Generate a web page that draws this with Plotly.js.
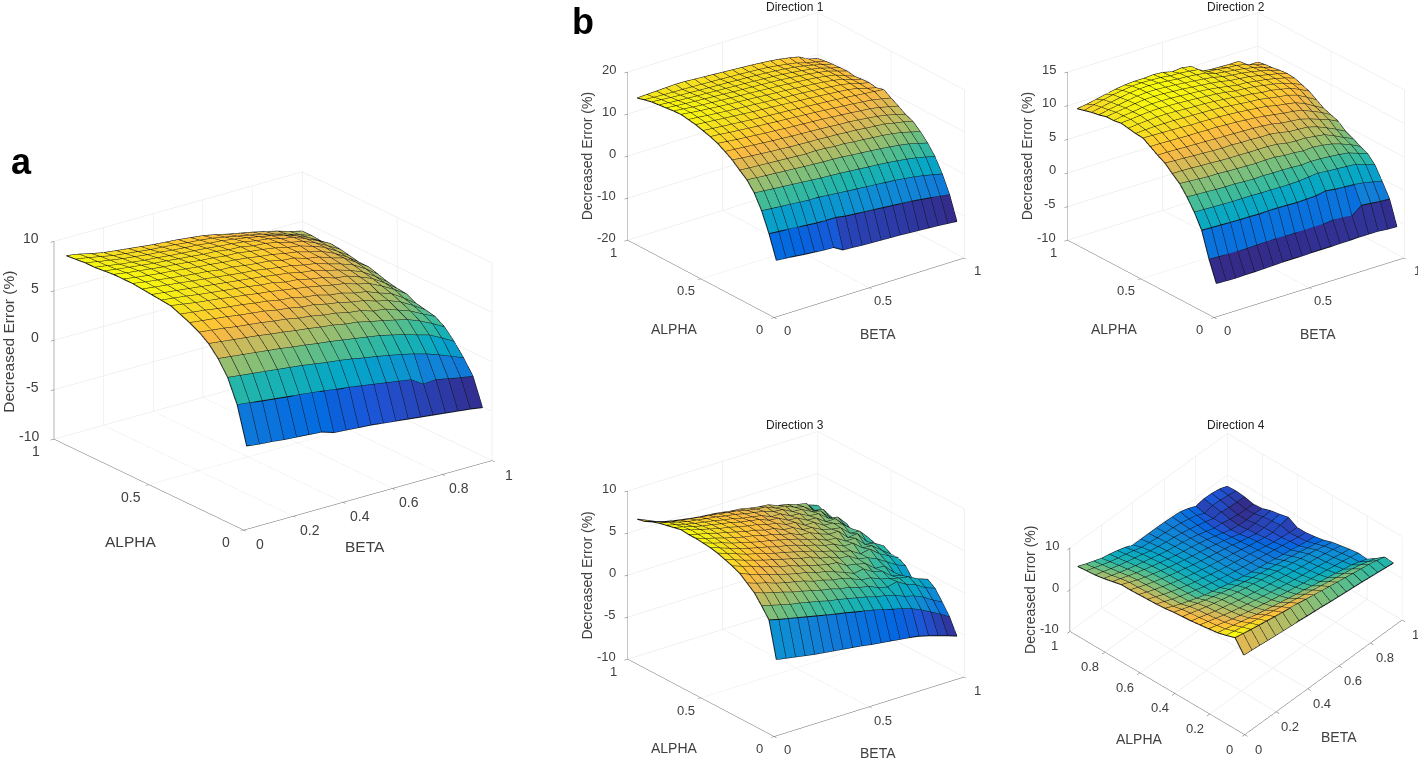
<!DOCTYPE html>
<html><head><meta charset="utf-8">
<script src="https://cdn.plot.ly/plotly-3.0.1.min.js"></script>
<style>html,body{margin:0;padding:0;background:#fff}#g{width:1418px;height:758px}</style>
</head><body><div id="g"></div>
<script>
const alpha=[.05,.1,.15,.2,.25,.3,.35,.4,.45,.5,.55,.6,.65,.7,.75,.8,.85,.9,.95,1];
const beta=[.05,.1,.15,.2,.25,.3,.35,.4,.45,.5,.55,.6,.65,.7,.75,.8,.85,.9,.95,1];
const zA=[
[-2.3,-2.45,-2.55,-2.7,-2.8,-2.9,-3,-3.4,-3.5,-3.6,-3.7,-3.85,-4,-4.15,-4.3,-4.45,-4.6,-4.75,-4.9,-5.1],
[1.4,1.25,1.1,.95,.8,.65,.5,.35,.15,0,-.2,-.4,-.6,-.8,-1,-1.8,-1.7,-1.95,-2.2,-2.4],
[3.7,3.55,3.4,3.25,3.1,2.95,2.8,2.6,2.4,2.25,2.05,1.8,1.6,1.35,1.1,.8,.45,0,-.5,-1],
[5.15,5,4.85,4.7,4.55,4.4,4.2,4.05,3.85,3.7,3.5,3.3,3.1,2.9,2.6,2.3,1.9,1.55,.9,.2],
[6.2,6.05,5.9,5.75,5.6,5.4,5.25,5.05,4.9,4.7,4.55,4.3,4.15,3.85,3.6,3.3,3,2.5,1.9,1.2],
[6.9,6.75,6.6,6.4,6.25,6.1,5.9,5.75,5.5,5.35,5.1,4.95,4.65,4.5,4.1,3.95,3.5,3.05,2.4,1.8],
[7.4,7.25,7.1,6.95,6.75,6.6,6.45,6.2,6.05,5.8,5.7,5.4,5.2,4.9,4.7,4.3,4,3.5,2.8,2],
[7.8,7.65,7.5,7.3,7.15,7,6.8,6.65,6.4,6.3,6,5.85,5.5,5.35,5,4.8,4.3,3.9,3.1,2.2],
[8.2,8,7.8,7.65,7.5,7.3,7.15,6.95,6.8,6.6,6.4,6.2,5.95,5.7,5.5,5.1,4.8,4.2,3.5,2.7],
[8.3,8.15,8,7.8,7.65,7.5,7.35,7.2,7,6.9,6.6,6.5,6.2,6,5.6,5.45,5,4.5,3.7,2.8],
[8.4,8.25,8.1,7.95,7.8,7.65,7.5,7.35,7.2,7.05,6.85,6.7,6.4,6.25,5.9,5.6,5.2,4.7,3.9,3],
[8.5,8.35,8.2,8.05,7.9,7.75,7.6,7.45,7.3,7.2,7,6.8,6.65,6.35,6.15,5.75,5.4,4.95,4.2,3.3],
[8.6,8.4,8.25,8.1,7.95,7.8,7.7,7.5,7.45,7.25,7.1,7,6.7,6.6,6.2,6,5.55,5.2,4.4,3.6],
[8.6,8.4,8.25,8.1,8,7.85,7.7,7.6,7.45,7.35,7.2,7,6.85,6.6,6.4,6.05,5.75,5.2,4.5,3.6],
[8.6,8.4,8.25,8.1,7.95,7.85,7.7,7.55,7.45,7.3,7.25,7.05,6.9,6.7,6.4,6.2,5.8,5.35,4.6,3.8],
[8.5,8.3,8.15,8,7.85,7.75,7.6,7.5,7.35,7.3,7.1,7.05,6.8,6.7,6.45,6.1,5.85,5.35,4.7,4],
[8.4,8.2,8,7.85,7.7,7.6,7.45,7.35,7.25,7.15,7,6.9,6.75,6.5,6.35,6,5.8,5.3,4.75,4.1],
[8.4,8.15,7.95,7.75,7.6,7.45,7.35,7.2,7.1,7,6.85,6.75,6.55,6.35,6.1,5.85,5.55,5.15,4.6,3.9],
[8.3,8.1,7.85,7.6,7.45,7.3,7.15,7.05,6.95,6.8,6.7,6.55,6.3,6.05,5.8,5.55,5.2,4.85,4.45,4],
[8.2,8,7.7,7.45,7.3,7.15,7,6.85,6.75,6.65,6.5,6.35,6.1,5.8,5.55,5.3,5,4.7,4.3,4]];
const zD1=[
[-8,-8.2,-8.45,-8.7,-8.9,-9.1,-9.2,-10.5,-10.6,-10.8,-10.9,-11,-11.1,-11.2,-11.35,-11.5,-11.65,-11.8,-12,-12.2],
[-2.6,-2.8,-3,-3.2,-3.4,-3.6,-3.7,-3.7,-4.1,-4.3,-4.5,-4.7,-4.9,-5.1,-5.3,-5.5,-5.8,-6.1,-6.5,-6.8],
[1.9,1.7,1.5,1.3,1.1,.9,.9,.6,.4,.2,0,-.2,-.4,-.6,-.8,-1.1,-1.4,-1.8,-2.3,-2.8],
[5.2,5,4.8,4.6,4.4,4.2,4,3.8,3.65,3.5,3.3,3.1,2.9,2.7,2.5,2.2,1.9,1.5,1,.4],
[7.4,7.2,7,6.85,6.65,6.5,6.3,6.15,6,5.9,5.75,5.5,5.3,5.1,4.85,4.6,4.3,3.9,3.3,2.7],
[8.8,8.6,8.45,8.3,8.15,8,7.85,7.7,7.75,7.6,7.35,7.3,7,6.85,6.6,6.4,6.1,5.7,5.1,4.5],
[10.3,10.05,9.85,9.65,9.45,9.3,9.1,9,8.85,8.8,8.6,8.55,8.3,8.2,7.9,7.7,7.5,7,6.6,6],
[11.4,11.2,11,10.8,10.6,10.4,10.25,10.05,9.95,9.8,9.65,9.5,9.3,9.2,8.95,8.7,8.4,8,7.4,6.7],
[12.4,12.15,11.9,11.7,11.5,11.3,11.15,10.95,10.8,10.65,10.5,10.35,10.15,9.95,9.75,9.5,9.3,8.9,8.35,7.8],
[13.1,12.9,12.65,12.45,12.25,12.05,11.9,11.7,11.55,11.4,11.2,11.05,10.85,10.65,10.45,10.25,10,9.75,9.3,8.8],
[13.6,13.4,13.2,13,12.8,12.6,12.4,12.25,12.1,11.95,11.75,11.6,11.4,11.25,11.05,10.85,10.6,10.35,10.15,9.9],
[14.1,13.9,13.7,13.5,13.3,13.1,12.9,12.75,12.6,12.4,12.25,12.05,11.9,11.7,11.5,11.3,11.05,10.7,10,9.4],
[14.4,14.2,13.95,13.75,13.55,13.35,13.2,13.05,12.85,12.7,12.5,12.35,12.2,12,11.8,11.55,11.3,10.9,10.2,9.7],
[14.7,14.4,14.15,13.95,13.75,13.55,13.4,13.25,13.1,12.9,12.75,12.6,12.4,12.2,12,11.75,11.45,11,10.2,9.6],
[14.6,14.35,14.1,13.9,13.75,13.6,13.45,13.3,13.15,13,12.85,12.7,12.5,12.3,12.1,11.85,11.5,11.1,10.2,9.4],
[14.4,14.2,14,13.85,13.7,13.55,13.4,13.25,13.1,13,12.85,12.7,12.55,12.35,12.1,11.85,11.5,11.1,10.4,9.7],
[14.2,14,13.8,13.65,13.5,13.4,13.25,13.15,13,12.9,12.75,12.6,12.45,12.25,12,11.7,11.35,10.9,10.2,9.6],
[14,13.8,13.6,13.45,13.35,13.2,13.1,13,12.9,12.75,12.65,12.5,12.35,12.15,11.9,11.6,11.2,10.7,10.1,9.5],
[13.6,13.45,13.35,13.25,13.2,13.1,13,12.9,12.8,12.65,12.55,12.4,12.25,12.05,11.75,11.4,11,10.3,9.8,9.3],
[13.1,13.2,13.3,13.4,13.5,13.45,13.3,13.15,13,12.85,12.7,12.55,12.4,12.2,12,11.7,11.3,10.8,9.6,9]];
const zD2=[
[-5.95,-6,-6.05,-6,-6,-5.95,-5.9,-5.85,-5.85,-5.85,-5.8,-5.8,-5.8,-5.75,-5.75,-5.7,-5.7,-5.7,-5.85,-5.9],
[-2.9,-2.95,-3,-3.05,-3.05,-3,-2.95,-2.95,-3,-3,-3,-3,-3,-2.85,-2.9,-3.1,-2,-2.15,-2.3,-2.4],
[.8,.75,.7,.65,.6,.6,.55,.6,.6,.55,.5,.55,.6,.9,.7,.6,.5,.3,0,-.4],
[2.9,2.85,2.8,2.75,2.7,2.7,2.7,2.65,2.65,2.6,2.6,2.65,2.8,2.95,2.8,2.7,2.6,2.5,2,1.5],
[4.6,4.5,4.45,4.35,4.3,4.3,4.2,4.15,4.2,4.15,4.15,4.1,4,4.1,4.05,3.95,3.8,3.6,3.1,2.6],
[6,5.9,5.8,5.7,5.7,5.6,5.55,5.5,5.45,5.5,5.5,5.3,5.25,5.1,5.2,5.05,4.8,4.35,3.8,3.1],
[6.9,6.9,6.85,6.75,6.7,6.6,6.55,6.55,6.5,6.5,6.5,6.4,6.1,6,6,5.8,5.6,5,4.3,3.7],
[7.9,7.8,7.75,7.65,7.6,7.5,7.45,7.5,7.4,7.4,7.3,7.3,7.1,6.8,6.7,6.6,6.2,5.6,4.95,4.2],
[8.5,8.5,8.45,8.4,8.35,8.3,8.25,8.2,8.15,8.1,8.05,7.95,7.8,7.5,7.35,7.2,6.8,6.3,5.8,5.1],
[9.2,9.2,9.15,9.1,9.05,9.05,9,9,8.9,8.85,8.7,8.6,8.4,8.2,7.95,7.8,7.5,6.9,6.3,5.5],
[9.9,9.85,9.8,9.75,9.7,9.6,9.6,9.55,9.5,9.4,9.3,9.15,9,8.85,8.5,8.3,8.05,7.5,6.7,5.9],
[10,10.1,10.15,10.15,10.15,10.1,10.05,10,9.95,9.85,9.7,9.55,9.4,9.3,9.05,8.8,8.6,8.15,7.4,6.6],
[10.2,10.35,10.45,10.55,10.55,10.5,10.4,10.35,10.3,10.2,10.05,9.9,9.7,9.55,9.3,9.2,8.9,8.6,8,7.3],
[10.4,10.5,10.65,10.75,10.8,10.75,10.7,10.6,10.5,10.4,10.3,10.1,9.85,9.75,9.6,9.35,9.1,8.8,8.3,7.7],
[10.2,10.45,10.6,10.8,10.9,10.9,10.85,10.75,10.65,10.55,10.4,10.2,9.95,9.7,9.65,9.4,9.2,8.9,8.55,8.1],
[10.2,10.4,10.6,10.8,10.95,11,10.95,10.85,10.75,10.6,10.45,10.3,10.1,9.8,9.65,9.5,9.2,8.9,8.6,8.2],
[9.9,10.2,10.45,10.7,10.9,11,11,10.9,10.8,10.65,10.5,10.35,10.15,9.8,9.6,9.45,9.2,8.9,8.55,8.1],
[9.7,10,10.3,10.55,10.8,10.95,11,10.95,10.8,10.65,10.55,10.4,10.2,9.7,9.5,9.3,9.1,8.8,8.4,7.9],
[9.4,9.8,10.1,10.4,10.6,10.8,10.85,10.8,10.75,10.55,10.5,10.35,10.15,9.4,9.3,9.1,9,8.7,8.2,7.8],
[9.1,9.3,9.6,9.9,10.2,10.4,10.5,10.5,10.6,10.5,10.15,10.3,10.05,8.9,8.7,8.65,8.6,8.6,7.6,7.6]];
const zD3=[
[-1.65,-1.85,-2.05,-2.25,-2.45,-2.6,-2.75,-2.9,-3.05,-3.2,-3.4,-3.55,-3.7,-3.85,-4,-4.2,-4.5,-4.85,-5.2,-5.6],
[2.6,2.3,2.05,1.8,1.55,1.3,1.05,.8,.6,.35,.1,-.15,-.45,-.75,-1.05,-1.4,-1.9,-2.5,-3.1,-3.8],
[3.8,3.5,3.2,2.9,2.7,2.45,2.2,1.9,1.7,1.45,1.2,.95,.6,.4,.1,-.4,-.7,-1.2,-1.9,-2.5],
[4.9,4.5,4.2,3.9,3.55,3.3,3,2.7,2.5,2.15,2,1.6,1.4,.9,.6,.9,.2,-.2,-.9,-1.3],
[5.6,5.2,4.9,4.5,4.2,3.95,3.7,3.3,3.1,2.75,2.6,2.2,1.7,1.6,1.1,.8,.5,.3,-.3,-.7],
[6.3,5.8,5.4,5.1,4.7,4.4,4.1,3.9,3.5,3.3,2.9,2.5,2,2.2,1.5,1.2,.3,0,-.8,-1.1],
[6.7,6.3,5.95,5.5,5.2,4.8,4.6,4.2,3.9,3.6,3.3,3.2,2.5,2.3,2,1.1,1,-.1,-1,-1.7],
[7,6.6,6.2,5.85,5.5,5.2,4.9,4.6,4.3,4.1,3.6,3.4,2.9,2.8,2.1,1.9,1.4,.7,0,-.5],
[7.3,6.9,6.5,6.1,5.8,5.5,5.15,4.9,4.6,4.3,4,3.6,3.3,2.9,2.6,1.9,2.1,1.2,.6,0],
[7.5,7.1,6.7,6.35,6,5.7,5.45,5.1,4.9,4.6,4.2,3.9,3.5,3.3,2.7,2.7,1.8,1.7,.8,0],
[7.6,7.2,6.9,6.5,6.2,5.9,5.6,5.4,5.1,4.8,4.5,4.1,3.8,3.3,3.2,2.5,2.5,1.4,1.2,.5],
[7.7,7.3,7,6.65,6.35,6.05,5.85,5.5,5.3,4.9,4.7,4.2,4.1,3.6,3.2,3.2,2.1,2.2,.9,.2],
[7.7,7.35,7.1,6.75,6.5,6.2,5.9,5.7,5.35,5.2,4.7,4.6,4,3.9,3.3,3,2.8,1.8,1.7,.5],
[7.8,7.4,7.1,6.8,6.5,6.3,6,5.75,5.55,5.2,5,4.5,4.4,3.7,3.7,3,2.9,2.4,1.5,.7],
[7.6,7.3,7,6.7,6.5,6.25,6.05,5.75,5.55,5.35,4.9,4.8,4.2,4.1,3.5,3.4,2.6,2.6,1.5,0],
[7.4,7.1,6.8,6.55,6.35,6.15,5.9,5.7,5.4,5.2,5,4.5,4.5,3.9,3.8,3.2,3.1,2.2,2,.8],
[7.2,6.9,6.6,6.3,6.15,5.95,5.8,5.55,5.4,5.1,4.9,4.7,4.3,4.2,3.6,3.5,2.9,2.6,1.4,.4],
[6.9,6.5,6.2,6,5.8,5.65,5.5,5.35,5.15,5,4.7,4.5,4.4,3.9,3.8,3.3,3,2.2,2,.6],
[6.5,6.1,5.75,5.5,5.3,5.1,4.95,4.85,4.7,4.5,4.4,4.15,3.95,3.85,3.4,3.2,2.8,2.6,1.3,.8],
[6.3,5.8,5.3,4.8,4.2,3.9,3.6,3.5,3.4,3.3,3.3,3.2,3.1,2.85,2.7,2.3,1.9,1.7,1.6,1.2]];
const zD4=[
[6.5,6.3,6.1,5.85,5.65,5.45,5.25,5.05,4.8,4.6,4.4,4.15,3.95,3.75,3.55,3.35,3.1,2.9,2.65,2.4],
[9.4,9,8.6,8.25,7.9,7.55,7.2,6.9,6.6,6.2,5.85,5.5,5.15,4.8,4.5,4.15,3.85,3.55,3.1,2.6],
[8.7,8.3,7.9,7.5,7.1,6.7,6.3,5.9,5.55,5.15,4.8,4.4,4.05,3.65,3.3,2.95,2.6,2.2,1.6,1],
[8.1,7.6,7.1,6.6,6.1,5.6,5.2,4.75,4.35,3.95,3.55,3.2,2.8,2.4,2.05,1.7,1.3,.95,.3,-.4],
[7.8,7.2,6.6,6,5.5,5,4.55,4.15,3.7,3.3,2.95,2.6,2.2,1.9,1.55,1.25,.9,.6,.2,-.2],
[7.5,6.9,6.3,5.7,5.15,4.65,4.2,3.75,3.35,2.95,2.55,2.2,1.85,1.5,1.2,.9,.55,.25,-.15,-.5],
[7.2,6.6,6,5.4,4.9,4.4,3.9,3.45,3.05,2.65,2.3,1.95,1.6,1.25,.9,.6,.3,-.05,-.45,-.9],
[7,6.4,5.8,5.2,4.65,4.15,3.7,3.25,2.85,2.45,2.05,1.7,1.35,1,.65,.3,0,-.4,-.85,-1.3],
[6.8,6.1,5.4,4.8,4.2,3.65,3.15,2.65,2.2,1.75,1.35,1,.65,.3,-.05,-.4,-.75,-1.15,-1.55,-2],
[6.5,5.6,4.8,4.1,3.4,2.8,2.3,1.8,1.3,.9,.5,.1,-.2,-.5,-.9,-1.2,-1.5,-1.9,-2.2,-2.4],
[6.3,5.5,4.7,4,3.35,2.75,2.2,1.75,1.25,.8,.4,0,-.35,-.65,-1,-1.35,-1.7,-2.1,-2.45,-2.7],
[6.2,5.4,4.6,3.9,3.25,2.65,2.1,1.65,1.15,.7,.25,-.1,-.5,-.85,-1.3,-1.7,-2.1,-2.35,-2.6,-2.7],
[6.1,5.3,4.55,3.85,3.2,2.6,2.05,1.55,1.05,.6,.2,-.2,-.6,-1,-1.45,-1.85,-2.2,-2.4,-2,-1.5],
[6,5.2,4.45,3.75,3.15,2.55,2,1.5,1,.55,.15,-.3,-.7,-1.2,-1.7,-2.1,-2.6,-2.5,-2.3,-2],
[6,5.15,4.35,3.65,3.05,2.45,1.9,1.4,.9,.45,.05,-.35,-.85,-1.35,-1.9,-2.5,-2.8,-2.7,-2.5,-2.4],
[5.5,4.8,4.1,3.45,2.85,2.3,1.75,1.25,.75,.35,0,-.45,-.95,-1.5,-2.1,-2.7,-3,-3.1,-3,-3.1],
[5,4.35,3.7,3.1,2.55,2.05,1.55,1.05,.6,.25,-.1,-.5,-1,-1.6,-2.2,-2.4,-2.8,-3.1,-3.2,-3.3],
[4.6,4,3.35,2.75,2.25,1.8,1.3,.75,.4,.1,-.15,-.5,-.9,-1.4,-1.9,-2.5,-2.3,-2.6,-2.7,-2.8],
[4.4,3.7,3.05,2.4,1.9,1.45,.95,.35,.1,-.1,-.25,-.45,-.7,-1.1,-1.6,-2.5,-2,-2.1,-2.3,-2.6],
[4.2,3.4,2.7,2,1.6,1.1,.5,-.3,-.3,-.3,-.3,-.35,-.45,-.6,-1.2,-2,-1.6,-1.7,-2,-2.7]];

const ticksHalf=[0,.5,1], ticksFifth=[0,.2,.4,.6,.8,1];
const parula=[[0,'#352A87'],[.095,'#2053D4'],[.143,'#0268E1'],[.222,'#127DD8'],[.3,'#0C93D2'],[.38,'#06A7C6'],[.46,'#1DB3AF'],[.52,'#42BB98'],[.587,'#71BF80'],[.65,'#9BBE6F'],[.714,'#C0BC60'],[.778,'#E1B952'],[.825,'#F8BA44'],[.857,'#FFC337'],[.905,'#FAD32A'],[.952,'#F5E41D'],[1,'#F9FB0E']];

const W=1418,H=758;
const fsB={ya:[-14,12],xa:[14,13],za:[-9,-3],yT:[-26,50],xT:[9,46],zT:[-40,0]};
const panels=[
 {z:zA, zr:[-10,10], zt:[-10,-5,0,5,10], xt:ticksFifth, yt:ticksHalf, cx:272.5, cy:351, w:540, h:500, az:37.4, el:21.5, ar:.68, s:1.25,
  off:{ya:[-17,12],xa:[17,14],za:[-12,-3],yT:[-18,57],xT:[-2,51],zT:[-45,1]},fs:14,ts:15.5},
 {z:zD1,zr:[-20,20], zt:[-20,-10,0,10,20], xt:ticksHalf, yt:ticksHalf, cx:795.5, cy:165, w:360, h:320, az:37.6, el:24, ar:.767, s:1.5,off:fsB,fs:13,ts:14},
 {z:zD2,zr:[-10,15], zt:[-10,-5,0,5,10,15], xt:ticksHalf, yt:ticksHalf, cx:1235.5,cy:165, w:360, h:320, az:37.6, el:24, ar:.767, s:1.5,off:fsB,fs:13,ts:14},
 {z:zD3,zr:[-10,10], zt:[-10,-5,0,5,10], xt:ticksHalf, yt:ticksHalf, cx:795.5, cy:584.3, w:360, h:320, az:37.6, el:24, ar:.767, s:1.5,off:fsB,fs:13,ts:14},
 {z:zD4,zr:[-10,10], zt:[-10,0,10], xt:ticksFifth, yt:ticksFifth, cx:1235.9, cy:584.4, w:360, h:320, az:48, el:41, ar:.47, s:1.47,
  off:{ya:[-15,14],xa:[14,14],za:[-9,-3],yT:[-18,56],xT:[16,59],zT:[-40,0]},fs:13,ts:14}
];
const R=3;
const font='Arial, "Liberation Sans", sans-serif';
function axis(range,ticks){return {
 title:{text:''},range:range,autorange:false,tickmode:'array',tickvals:ticks,showticklabels:false,
 showgrid:true,gridcolor:'#e4e4e4',gridwidth:1,
 showline:true,linecolor:'#666',linewidth:1,ticks:'outside',ticklen:4,tickcolor:'#666',zeroline:false,
 showbackground:true,backgroundcolor:'#fff',showspikes:false,mirror:false};}
function note(text,px,py,size){return {text:text,x:px/W,y:1-py/H,xref:'paper',yref:'paper',xanchor:'center',yanchor:'middle',showarrow:false,font:{family:font,size:size,color:size>20?'#000':'#222'}};}
function lab(text,x,y,z,off,size,xanchor,angle){return {text:text,x:x,y:y,z:z,showarrow:false,xshift:off[0],yshift:-off[1],xanchor:xanchor||'center',yanchor:'middle',textangle:angle||0,font:{family:font,size:size,color:'#404040'}};}
const traces=[],layout={width:W,height:H,margin:{l:0,r:0,t:0,b:0},paper_bgcolor:'#fff',showlegend:false,
 annotations:[note('<b>a</b>',21,161,36),note('<b>b</b>',583,22,36),note('Direction 1',795,7,12),note('Direction 2',1236,7,12),note('Direction 3',795,425,12),note('Direction 4',1236,425,12)]};
panels.forEach((p,n)=>{
 const id=n?'scene'+(n+1):'scene';
 const X=[],Y=[],Z=[],I=[],J=[],K=[],C=[];
 const ny=alpha.length,nx=beta.length;
 for(let a=0;a<ny;a++)for(let b=0;b<nx;b++){X.push(beta[b]);Y.push(alpha[a]);Z.push(p.z[a][b]);}
 for(let a=0;a<ny-1;a++)for(let b=0;b<nx-1;b++){
  const v=a*nx+b,c=p.z[a][b];
  I.push(v,v);J.push(v+1,v+nx+1);K.push(v+nx+1,v+nx);C.push(c,c);
 }
 const flat=p.z.flat();
 traces.push({type:'mesh3d',scene:id,x:X,y:Y,z:Z,i:I,j:J,k:K,intensity:C,intensitymode:'cell',colorscale:parula,
  cmin:Math.min(...flat),cmax:Math.max(...flat),showscale:false,flatshading:true,hoverinfo:'skip',
  lighting:{ambient:1,diffuse:0,specular:0,roughness:1,fresnel:0}});
 const lx=[],ly=[],lz=[];
 for(let a=0;a<ny;a++){for(let b=0;b<nx;b++){lx.push(beta[b]);ly.push(alpha[a]);lz.push(p.z[a][b]);}lx.push(null);ly.push(null);lz.push(null);}
 for(let b=0;b<nx;b++){for(let a=0;a<ny;a++){lx.push(beta[b]);ly.push(alpha[a]);lz.push(p.z[a][b]);}lx.push(null);ly.push(null);lz.push(null);}
 traces.push({type:'scatter3d',scene:id,mode:'lines',x:lx,y:ly,z:lz,line:{color:'#101216',width:2},connectgaps:false,hoverinfo:'skip'});
 const az=p.az*Math.PI/180,el=p.el*Math.PI/180,z0=p.zr[0],zm=(p.zr[0]+p.zr[1])/2;
 const anns=[];
 p.yt.forEach(v=>anns.push(lab(String(v),0,v,z0,p.off.ya,p.fs)));
 p.xt.forEach(v=>anns.push(lab(String(v),v,0,z0,p.off.xa,p.fs)));
 p.zt.forEach(v=>anns.push(lab(String(v),0,1,v,p.off.za,p.fs,'right')));
 anns.push(lab('ALPHA',0,.5,z0,p.off.yT,p.ts));
 anns.push(lab('BETA',.5,0,z0,p.off.xT,p.ts));
 anns.push(lab('Decreased Error (%)',0,1,zm,p.off.zT,p.ts,'center',-90));
 layout[id]={domain:{x:[(p.cx-p.w/2)/W,(p.cx+p.w/2)/W],y:[1-(p.cy+p.h/2)/H,1-(p.cy-p.h/2)/H]},
  xaxis:axis([0,1],p.xt),yaxis:axis([0,1],p.yt),zaxis:axis(p.zr,p.zt),annotations:anns,
  aspectmode:'manual',aspectratio:{x:p.s,y:p.s,z:p.ar*p.s},bgcolor:'#fff',
  camera:{projection:{type:'orthographic'},up:{x:0,y:0,z:1},center:{x:0,y:0,z:0},
   eye:{x:-R*Math.sin(az)*Math.cos(el),y:-R*Math.cos(az)*Math.cos(el),z:R*Math.sin(el)}}};
});
Plotly.newPlot('g',traces,layout,{displayModeBar:false});
</script></body></html>
